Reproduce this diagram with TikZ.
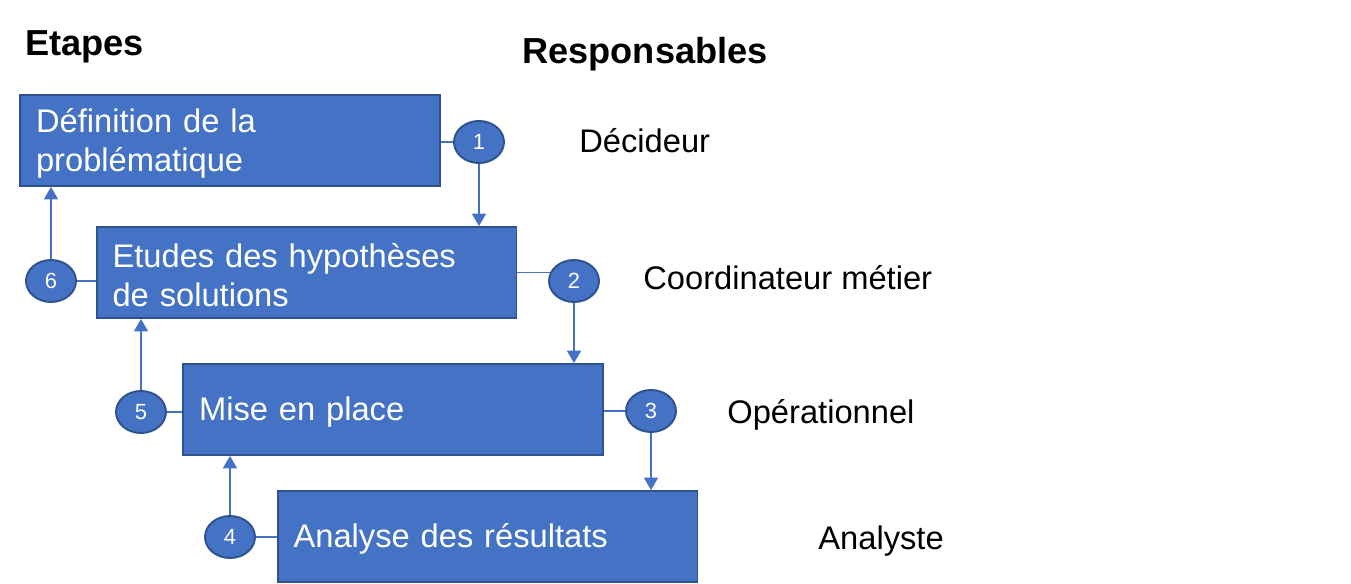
\documentclass[tikz,border=0pt]{standalone}
\usepackage{fontspec}
\setmainfont{Liberation Sans}
\usetikzlibrary{shapes.geometric,arrows.meta}
\definecolor{boxblue}{HTML}{4472C4}
\definecolor{boxedge}{HTML}{2F528F}
\begin{document}
\begin{tikzpicture}[x=0.02cm, y=-0.02cm,
    etape/.style={draw=boxedge, line width=1.1pt, fill=boxblue, text=white,
        font=\fontsize{18.6}{22.6}\selectfont, text width=7.76cm, align=left,
        inner xsep=0.32cm, inner ysep=0pt, minimum height=1.82cm, text height=16.8pt},
    num/.style={ellipse, draw=boxedge, line width=1.1pt, fill=boxblue, text=white,
        minimum width=1.0cm, minimum height=0.84cm, inner sep=0pt,
        font=\fontsize{12.5}{14}\selectfont},
    lien/.style={draw=boxblue, line width=0.6pt},
    fleche/.style={lien, -{Triangle[width=8pt,length=7pt]}},
    titre/.style={anchor=base west, inner sep=0pt, font=\bfseries\fontsize{20.6}{24}\selectfont},
    role/.style={anchor=base west, inner sep=0pt, font=\fontsize{18.6}{22.6}\selectfont}]
            \useasboundingbox (0,0) rectangle (1351,584);

            \node[titre] (T1) at (25,56) {Etapes};
            \node[titre] (T2) at (522,64) {Responsables};

            \node[etape] (B1) at (230,140.5) {Définition de la\\problématique};
            \node[etape] (B2) at (306.5,272.5) {Etudes des hypothèses\\de solutions};
            \node[etape] (B3) at (393,409.5) {Mise en place};
            \node[etape] (B4) at (487.5,536.5) {Analyse des résultats};

            \node[num] (C1) at (479,142) {1};
            \node[num] (C2) at (574,281) {2};
            \node[num] (C3) at (651,411) {3};
            \node[num] (C4) at (230,537) {4};
            \node[num] (C5) at (141,412) {5};
            \node[num] (C6) at (51,281) {6};

            \node[role] (R1) at (579,153) {Décideur};
            \node[role] (R2) at (643,289) {Coordinateur métier};
            \node[role] (R3) at (727,423) {Opérationnel};
            \node[role] (R4) at (818,549) {Analyste};

            \draw[lien] (C1) -- (C1 -| B1.east);
            \draw[lien] (C2.160) -- (C2.160 -| B2.east);
            \draw[lien] (C3) -- (C3 -| B3.east);
            \draw[lien] (C4) -- (C4 -| B4.west);
            \draw[lien] (C5) -- (C5 -| B3.west);
            \draw[lien] (C6) -- (C6 -| B2.west);

            \draw[fleche] (C1) -- (C1 |- B2.north);
            \draw[fleche] (C2) -- (C2 |- B3.north);
            \draw[fleche] (C3) -- (C3 |- B4.north);
            \draw[fleche] (C4) -- (C4 |- B3.south);
            \draw[fleche] (C5) -- (C5 |- B2.south);
            \draw[fleche] (C6) -- (C6 |- B1.south);
        \end{tikzpicture}
\end{document}
